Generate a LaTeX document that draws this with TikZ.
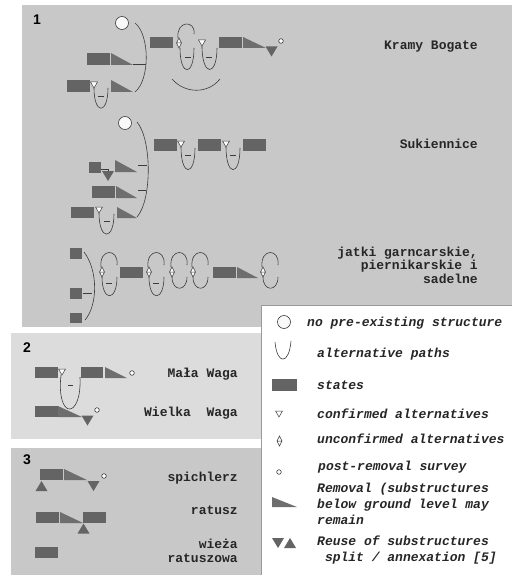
\documentclass[tikz,border=0pt]{standalone}
\usepackage{fontspec}
\setsansfont{Liberation Sans}
\setmonofont{Liberation Mono}

\definecolor{panelgray}{HTML}{C8C8C8}
\definecolor{panellight}{HTML}{DCDCDC}
\definecolor{stategray}{HTML}{646464}
\definecolor{removalgray}{HTML}{6E6E6E}
\definecolor{linegray}{HTML}{3C3C3C}
\definecolor{framegray}{HTML}{9A9A9A}

\tikzset{
  statebox/.style={fill=stategray},
  removal/.style={fill=removalgray},
  altpath/.style={draw=linegray, line width=0.6pt},
  site label/.style={font=\fontsize{13}{13.5}\selectfont\ttfamily\bfseries, text=black!85, inner sep=0pt, align=right},
  legend text/.style={font=\fontsize{13}{16}\selectfont\ttfamily\bfseries\itshape, text=black!85, inner sep=0pt, align=left},
  panel number/.style={font=\fontsize{14}{14}\selectfont\sffamily\bfseries, inner sep=0pt},
  pics/confirmed/.style={code={\draw[linegray, fill=white, line width=0.5pt] (-3.5,-3) -- (3.5,-3) -- (0,3) -- cycle;}},
  pics/unconfirmed/.style={code={\draw[linegray, fill=white, line width=0.5pt] (0,-5) -- (2.5,0) -- (0,5) -- (-2.5,0) -- cycle (-2.5,0) -- (2.5,0);}},
  pics/survey/.style={code={\draw[linegray, fill=white, line width=0.6pt] (0,0) circle (2.3pt);}},
  pics/reuse down/.style={code={\fill[stategray] (-6,-5) -- (6,-5) -- (0,5) -- cycle;}},
  pics/reuse up/.style={code={\fill[stategray] (-6,5) -- (6,5) -- (0,-5) -- cycle;}},
  pics/no structure/.style={code={\draw[linegray, fill=white!95!gray, line width=0.6pt] (0,0) circle (6.5pt);}},
}

\begin{document}
\begin{tikzpicture}[x=1pt, y=-1pt]

  \useasboundingbox (0,0) rectangle (512,575);

  % panels
  \fill[panelgray] (22,5) rectangle (512,327);
  \fill[panellight] (11,333) rectangle (261,439);
  \fill[panelgray] (11,448) rectangle (261,575);
  \fill[white] (261,305) rectangle (512,575);
  \draw[framegray, line width=0.8pt] (261.5,575) -- (261.5,305.5) -- (512,305.5);

  \node[panel number] (num1) at (37,20) {1};
  \node[panel number] (num2) at (27,348) {2};
  \node[panel number] (num3) at (27,460) {3};

  % Kramy Bogate
  \pic at (122,23) {no structure};
  \fill[statebox] (87,53) rectangle (110,65);
  \fill[removal] (111,53) -- (111,65) -- (133,65) -- cycle;
  \fill[statebox] (67,80) rectangle (90,92);
  \pic at (94,85) {confirmed};
  \draw[altpath] (94,88) .. controls (94,115) and (108,115) .. (108,88);
  \draw[altpath] (98,96) -- (104,96);
  \fill[removal] (111,80) -- (111,92) -- (133,92) -- cycle;
  \draw[altpath] (135,23) .. controls (150,35) and (150,80) .. (135,92);
  \draw[altpath] (133,64) -- (146,64);

  \fill[statebox] (150,37) rectangle (173,48);
  \pic at (179,43) {unconfirmed};
  \draw[altpath] (178,38) .. controls (176,20) and (196,20) .. (194,34);
  \draw[altpath] (180,48) .. controls (180,77) and (194,77) .. (194,48);
  \draw[altpath] (185,57) -- (191,57);
  \pic at (202,43) {confirmed};
  \draw[altpath] (202,46) .. controls (202,77) and (217,77) .. (217,48);
  \draw[altpath] (206,57) -- (212,57);
  \draw[altpath] (172,79) .. controls (185,94) and (208,94) .. (220,79);
  \fill[statebox] (219,37) rectangle (242,48);
  \fill[removal] (243,37) -- (243,48) -- (266,48) -- cycle;
  \pic at (271.5,51.5) {reuse down};
  \pic at (281,41) {survey};
  \node[site label, anchor=base east] (kramy) at (478,50) {Kramy Bogate};

  % Sukiennice
  \pic at (125,123) {no structure};
  \draw[altpath] (137,122) .. controls (152,140) and (152,200) .. (137,217);
  \fill[statebox] (89,162) rectangle (101,173);
  \draw[altpath] (101,169) -| (108,172);
  \pic at (108,176) {reuse down};
  \fill[removal] (115,160) -- (115,172) -- (137,172) -- cycle;
  \draw[altpath] (138,165) -- (147,165);
  \fill[statebox] (92,186) rectangle (115,198);
  \fill[removal] (116,186) -- (116,198) -- (137,198) -- cycle;
  \draw[altpath] (138,190) -- (146,190);
  \fill[statebox] (71,207) rectangle (94,218);
  \pic at (99,210) {confirmed};
  \draw[altpath] (99,213) .. controls (99,241) and (114,241) .. (114,214);
  \draw[altpath] (104,221) -- (110,221);
  \fill[removal] (117,207) -- (117,218) -- (137,218) -- cycle;

  \fill[statebox] (154,139) rectangle (177,151);
  \pic at (181,144) {confirmed};
  \draw[altpath] (181,147) .. controls (181,177) and (195,177) .. (195,148);
  \draw[altpath] (185,155) -- (191,155);
  \fill[statebox] (198,139) rectangle (221,151);
  \pic at (226,144) {confirmed};
  \draw[altpath] (226,147) .. controls (226,177) and (240,177) .. (240,148);
  \draw[altpath] (230,155) -- (236,155);
  \fill[statebox] (243,139) rectangle (266,151);
  \node[site label, anchor=base east] (sukiennice) at (478,148) {Sukiennice};

  % jatki
  \fill[statebox] (70,248) rectangle (82,259);
  \fill[statebox] (70,288) rectangle (82,299);
  \fill[statebox] (70,313) rectangle (82,323);
  \draw[altpath] (84,252) .. controls (98,270) and (98,305) .. (85,320);
  \draw[altpath] (83,293) -- (92,293);
  \foreach \x in {102,149} {
    \pic at (\x,272) {unconfirmed};
    \draw[altpath] (\x-1,267) .. controls (\x-3,248) and (\x+17,248) .. (\x+15,265);
    \draw[altpath] (\x,277) .. controls (\x,302) and (\x+15,302) .. (\x+15,277);
    \draw[altpath] (\x+4,283) -- (\x+10,283);
  }
  \foreach \x in {172,193,263} {
    \pic at (\x,272) {unconfirmed};
    \draw[altpath] (\x-1,267) .. controls (\x-3,248) and (\x+17,248) .. (\x+15,265);
    \draw[altpath] (\x,277) .. controls (\x,292) and (\x+15,292) .. (\x+15,277);
  }
  \fill[statebox] (120,267) rectangle (143,278);
  \fill[statebox] (213,267) rectangle (236,278);
  \fill[removal] (237,267) -- (237,278) -- (258,278) -- cycle;
  \node[site label, anchor=east] (jatki) at (478,265) {jatki garncarskie,\\piernikarskie i\\sadelne};

  % panel 2
  \fill[statebox] (35,367) rectangle (58,378);
  \pic at (62,372) {confirmed};
  \draw[altpath] (61,375) .. controls (56,420) and (82,420) .. (80,377);
  \draw[altpath] (68,385) -- (73,385);
  \fill[statebox] (81,367) rectangle (103,378);
  \fill[removal] (105,367) -- (105,378) -- (127,378) -- cycle;
  \pic at (132,373) {survey};
  \node[site label, anchor=base east] (mala) at (238,377) {Mała Waga};
  \fill[statebox] (35,406) rectangle (58,417);
  \fill[removal] (58,406) -- (58,417) -- (82,417) -- cycle;
  \pic at (87.5,420.5) {reuse down};
  \pic at (97,410) {survey};
  \node[site label, anchor=base east] (wielka) at (238,416) {Wielka\ \ Waga};

  % panel 3
  \fill[statebox] (40,469) rectangle (63,480);
  \fill[removal] (64,469) -- (64,480) -- (87,480) -- cycle;
  \pic at (41.5,486) {reuse up};
  \pic at (93.5,486) {reuse down};
  \pic at (104,476) {survey};
  \node[site label, anchor=base east] (spichlerz) at (238,481) {spichlerz};
  \fill[statebox] (36,512) rectangle (59,523);
  \fill[removal] (60,512) -- (60,523) -- (83,523) -- cycle;
  \fill[statebox] (83,512) rectangle (106,523);
  \pic at (83.5,528.5) {reuse up};
  \node[site label, anchor=base east] (ratusz) at (238,514) {ratusz};
  \fill[statebox] (35,547) rectangle (58,558);
  \node[site label, anchor=east] (wieza) at (238,551) {wieża\\ratuszowa};

  % legend
  \pic at (284,322) {no structure};
  \node[legend text, anchor=base west] (lg nopre) at (307,326) {no pre-existing structure};
  \draw[altpath] (275,342) .. controls (277,365) and (289,365) .. (291,341);
  \node[legend text, anchor=base west] (lg alt) at (317,357) {alternative paths};
  \fill[statebox] (272,379) rectangle (297,391);
  \node[legend text, anchor=base west] (lg state) at (317,389) {states};
  \pic at (279,414) {confirmed};
  \node[legend text, anchor=base west] (lg conf) at (317,418) {confirmed alternatives};
  \pic at (279.5,441) {unconfirmed};
  \node[legend text, anchor=base west] (lg unconf) at (317,443) {unconfirmed alternatives};
  \pic at (279,472) {survey};
  \node[legend text, anchor=base west] (lg survey) at (318,470) {post-removal survey};
  \fill[removal] (272,497) -- (272,507) -- (297,507) -- cycle;
  \node[legend text, anchor=west] (lg removal) at (317,504) {Removal (substructures\\below ground level may\\remain};
  \pic at (278,543) {reuse down};
  \pic at (290,543) {reuse up};
  \node[legend text, anchor=west] (lg reuse) at (317,550) {Reuse of substructures\\\ split / annexation [5]};

\end{tikzpicture}
\end{document}
